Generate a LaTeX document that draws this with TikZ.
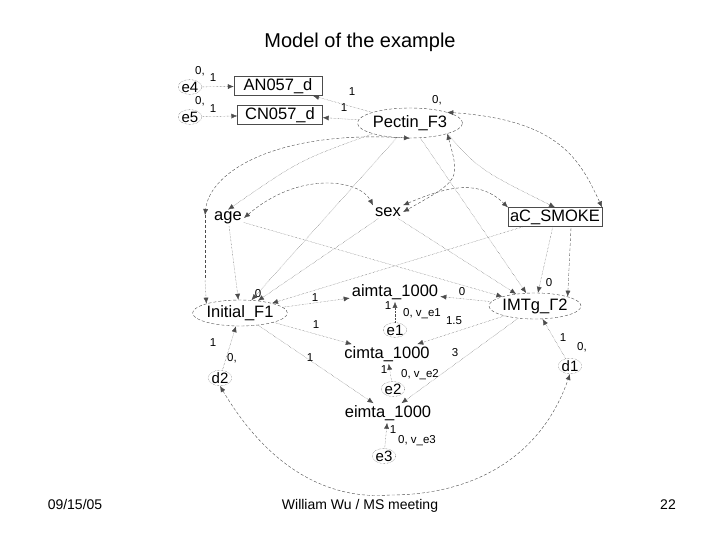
\documentclass[tikz,border=0pt]{standalone}
\usepackage{fontspec}
\setmainfont{Liberation Sans}
\usetikzlibrary{arrows.meta,shapes.geometric}
\begin{document}
\begin{tikzpicture}[x=1pt,y=-1pt,
 lat/.style={draw=gray!60!black,densely dashed,ellipse,inner sep=0pt,font=\fontsize{16.5}{16.5}\selectfont},
 err/.style={draw=gray!60!black,densely dotted,ellipse,inner sep=0pt,font=\fontsize{15}{15}\selectfont},
 obs/.style={draw=gray!60!black,inner sep=2pt,font=\fontsize{16.5}{16.5}\selectfont},
 lbl/.style={font=\fontsize{11.5}{11.5}\selectfont,inner sep=0pt},
 foot/.style={font=\fontsize{14}{14}\selectfont,anchor=base},
 ed/.style={gray!60!black,densely dotted,-{Latex[length=6pt,width=5pt]}},
 cv/.style={gray!60!black,densely dashed,{Latex[length=6pt,width=5pt]}-{Latex[length=6pt,width=5pt]}}]
\useasboundingbox (0,0) rectangle (720,540);
\node[font=\fontsize{20}{20}\selectfont] (title) at (360,42) {Model of the example};
\node[err] (e4) at (190,87) {e4};
\node[err] (e5) at (190,117) {e5};
\node[obs,minimum width=88pt] (an) at (278,86) {AN057\_d};
\node[obs,minimum width=85pt] (cn) at (280,115) {CN057\_d};
\node[lat,minimum width=105pt,minimum height=30pt] (pec) at (410,123) {Pectin\_F3};
\node[obs,draw=none] (age) at (228,218) {age};
\node[obs,draw=none] (sex) at (388,212) {sex};
\node[obs] (smk) at (555,217) {aC\_SMOKE};
\node[lat,minimum width=88pt,minimum height=26pt] (ini) at (240,313) {Initial\_F1};
\node[lat,minimum width=86pt,minimum height=26pt] (imt) at (535,306) {IMTg\_Γ2};
\node[obs,draw=none] (aim) at (395,292) {aimta\_1000};
\node[obs,draw=none] (cim) at (387,354) {cimta\_1000};
\node[obs,draw=none] (eim) at (388,413) {eimta\_1000};
\node[err] (e1) at (395,330) {e1};
\node[err] (e2) at (393,389) {e2};
\node[err] (e3) at (384,456) {e3};
\node[err] (d2) at (220,378) {d2};
\node[err] (d1) at (570,366) {d1};
\node[foot] (f1) at (75,509) {09/15/05};
\node[foot] (f2) at (360,509) {William Wu / MS meeting};
\node[foot] (f3) at (668,509) {22};
% labels
\node[lbl] (l1) at (200,71) {0,}; \node[lbl] (l2) at (213,78) {1};
\node[lbl] (l3) at (200,101) {0,}; \node[lbl] (l4) at (213,109) {1};
\node[lbl] (l5) at (352,92) {1}; \node[lbl] (l6) at (344,108) {1};
\node[lbl] (l7) at (437,100) {0,};
\node[lbl] (l8) at (258,294) {0};
\node[lbl] (l9) at (315,298) {1}; \node[lbl] (l10) at (316,325) {1}; \node[lbl] (l11) at (310,358) {1};
\node[lbl] (l12) at (462,292) {0}; \node[lbl] (l13) at (549,283) {0};
\node[lbl] (l14) at (388,306) {1}; \node[lbl] (l15) at (422,314) {0, v\_e1}; \node[lbl] (l16) at (454,321) {1.5};
\node[lbl] (l17) at (384,370) {1}; \node[lbl] (l18) at (420,375) {0, v\_e2}; \node[lbl] (l19) at (455,353) {3};
\node[lbl] (l20) at (393,430) {1}; \node[lbl] (l21) at (417,441) {0, v\_e3};
\node[lbl] (l22) at (563,338) {1}; \node[lbl] (l23) at (582,347) {0,};
\node[lbl] (l24) at (213,343) {1}; \node[lbl] (l25) at (232,358) {0,};
% edges
\draw[ed] (e4) -- (an);
\draw[ed] (e5) -- (cn);
\draw[ed] (pec) -- (an);
\draw[ed] (pec) -- (cn);
\draw[ed] (pec) -- (ini);
\draw[ed] (pec) -- (imt);
\draw[ed] (pec.south west) .. controls (300,160) .. (age.north);
\draw[ed] (pec.south east) .. controls (480,170) .. (smk.north);
\draw[cv] (pec.north east) .. controls (560,120) and (580,160) .. (smk.north east);
\draw[cv] (pec.south) .. controls (280,130) and (210,170) .. (205,215);
\draw[densely dashed,gray!60!black] (205,215) -- (205,280);
\draw[ed] (205,280) -- (ini.north west);
\draw[cv] (age.east) .. controls (300,170) and (360,180) .. (sex.north west);
\draw[cv] (sex.north east) .. controls (450,185) and (480,180) .. (smk.north west);
\draw[cv] (pec.south east) .. controls (460,180) .. (sex.east);
\draw[ed] (age) -- (imt);
\draw[ed] (age) -- (ini);
\draw[ed] (sex) -- (ini);
\draw[ed] (sex) -- (imt);
\draw[ed] (smk) -- (ini);
\draw[ed] (smk) -- (imt);
\draw[densely dashed,gray!60!black,-{Latex[length=6pt,width=5pt]}] (571,228) -- (imt.north east);
\draw[ed] (ini) -- (aim);
\draw[ed] (ini) -- (cim);
\draw[ed] (ini) -- (eim);
\draw[ed] (imt) -- (aim);
\draw[ed] (imt) -- (cim);
\draw[ed] (imt) -- (eim);
\draw[ed] (e1) -- (aim);
\draw[ed] (e2) -- (cim);
\draw[ed] (e3) -- (eim);
\draw[ed] (d1) -- (imt);
\draw[ed] (d2) -- (ini);
\draw[cv] (d2.south) .. controls (270,470) and (330,500) .. (390,495) .. controls (470,495) and (540,460) .. (d1.south);
\end{tikzpicture}
\end{document}
